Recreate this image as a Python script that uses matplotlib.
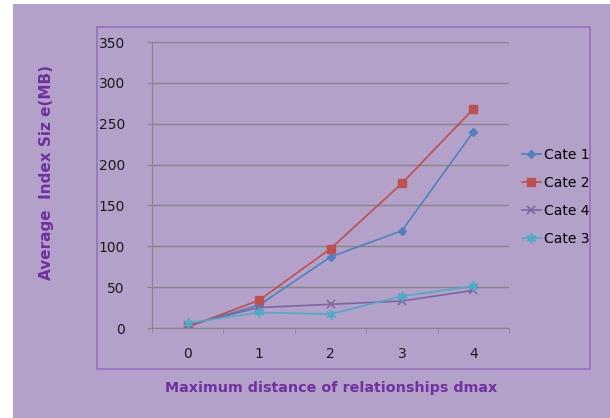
import matplotlib.pyplot as plt
from matplotlib.patches import Rectangle

# data
dmax = [0, 1, 2, 3, 4]
cate1 = [3, 28, 87, 119, 240]
cate2 = [1, 34, 97, 177, 268]
cate4 = [4, 25, 29, 33, 46]
cate3 = [6, 19, 17, 39, 51]
y_ticks = [0, 50, 100, 150, 200, 250, 300, 350]

bg = '#b3a1c9'
label_col = '#7030a0'
tick_font = ['Liberation Sans Narrow', 'DejaVu Sans']

fig = plt.figure(figsize=(6.1, 4.18), dpi=100)
fig.patch.set_facecolor('white')

# purple background, white strip left/top
fig.patches.append(Rectangle((13 / 610, 0), 1, 1 - 4 / 418, transform=fig.transFigure,
                             facecolor=bg, edgecolor='none', zorder=-2))
# inner chart frame
fig.patches.append(Rectangle((97 / 610, 1 - 369 / 418), (590 - 97) / 610, (369 - 27) / 418,
                             transform=fig.transFigure, facecolor='none',
                             edgecolor='#9470c0', linewidth=1.2, zorder=-1))

ax = fig.add_axes([152 / 610, 1 - 328 / 418, (509 - 152) / 610, (328 - 42) / 418])
ax.set_facecolor('none')

ax.plot(dmax, cate1, color='#4f81bd', marker='D', markersize=4, linewidth=1.2, label='Cate 1')
ax.plot(dmax, cate2, color='#c0504d', marker='s', markersize=6, linewidth=1.2, label='Cate 2')
ax.plot(dmax, cate4, color='#8064a2', marker='x', markersize=6, markeredgewidth=1.2,
        linewidth=1.2, label='Cate 4')
ax.plot(dmax, cate3, color='#4bacc6', marker=(6, 2, 0), markersize=7, markeredgewidth=1.2,
        linewidth=1.2, label='Cate 3')

ax.set_xlim(-0.5, 4.5)
ax.set_ylim(0, 350)
ax.set_yticks(y_ticks)
ax.set_xticks(dmax)
ax.set_xticks([-0.5, 0.5, 1.5, 2.5, 3.5, 4.5], minor=True)
ax.tick_params(axis='x', which='major', length=0, pad=14)
ax.tick_params(axis='x', which='minor', length=3.6, color='#868686', direction='out')
ax.tick_params(axis='y', length=3.6, color='#868686', pad=16)
for lab in ax.get_xticklabels() + ax.get_yticklabels():
    lab.set_family(tick_font)
    lab.set_fontsize(10)
    lab.set_color('#1a1a1a')

ax.grid(axis='y', color='#868686', linewidth=1)
ax.set_axisbelow(True)
for side in ['top', 'right']:
    ax.spines[side].set_visible(False)
ax.spines['left'].set_color('#868686')
ax.spines['bottom'].set_color('#868686')

fig.text(331 / 610, 1 - 388 / 418, 'Maximum distance of relationships dmax',
         ha='center', va='center', color=label_col, fontsize=10.3, fontweight='heavy')
fig.text(47 / 610, 1 - 172 / 418, 'Average  Index Siz e(MB)', rotation=90,
         ha='center', va='center', color=label_col, fontsize=11, fontweight='heavy')

leg = ax.legend(loc='center left', bbox_to_anchor=(1.0, 0.458), frameon=False,
                handlelength=1.4, handletextpad=0.2, labelspacing=1.0,
                prop={'family': tick_font, 'size': 10})

fig.savefig('out.png', dpi=100, facecolor=fig.get_facecolor())
